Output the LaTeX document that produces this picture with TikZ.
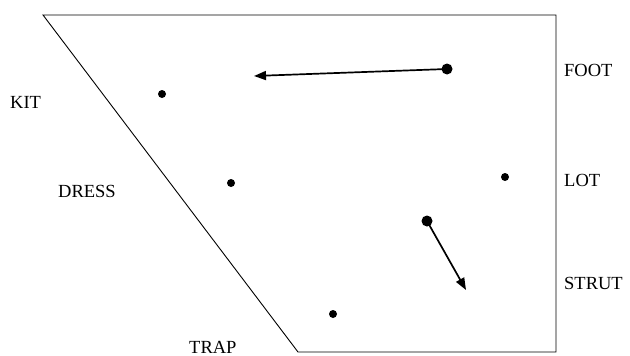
\documentclass[tikz,border=0pt]{standalone}
\usepackage{fontspec}
\setmainfont{Liberation Serif}
\usetikzlibrary{arrows.meta}
\begin{document}
\begin{tikzpicture}[x=1pt,y=-1pt,
  lbl/.style={font=\fontsize{18.5}{19}\selectfont, inner sep=0pt},
  sdot/.style={circle, fill=black, inner sep=0pt, minimum size=8pt},
  bdot/.style={circle, fill=black, inner sep=0pt, minimum size=11pt},
  mv/.style={line width=1.7pt, -{Triangle[length=12pt,width=9pt]}},
  frame/.style={line width=0.9pt}]
\useasboundingbox (0,0) rectangle (630,356);
\draw[frame] (43,15) -- (556,15) -- (556,352) -- (298,352) -- cycle;
% dots
\node[sdot] (kitd) at (162,94) {};
\node[sdot] (dressd) at (231,183) {};
\node[sdot] (lotd) at (505,177) {};
\node[sdot] (trapd) at (333,314) {};
\node[bdot] (footd) at (447,69) {};
\node[bdot] (strutd) at (427,221) {};
\coordinate (footend) at (254,76);
\coordinate (strutend) at (466,290);
\draw[mv] (footd.center) -- (footend);
\draw[mv] (strutd.center) -- (strutend);
% labels
\node[lbl, anchor=west] (kit) at (10,102) {KIT};
\node[lbl, anchor=west] (dress) at (58,191) {DRESS};
\node[lbl, anchor=west] (trap) at (189,347) {TRAP};
\node[lbl, anchor=west] (foot) at (564,70) {FOOT};
\node[lbl, anchor=west] (lot) at (564,180) {LOT};
\node[lbl, anchor=west] (strut) at (564,283) {STRUT};
\end{tikzpicture}
\end{document}
